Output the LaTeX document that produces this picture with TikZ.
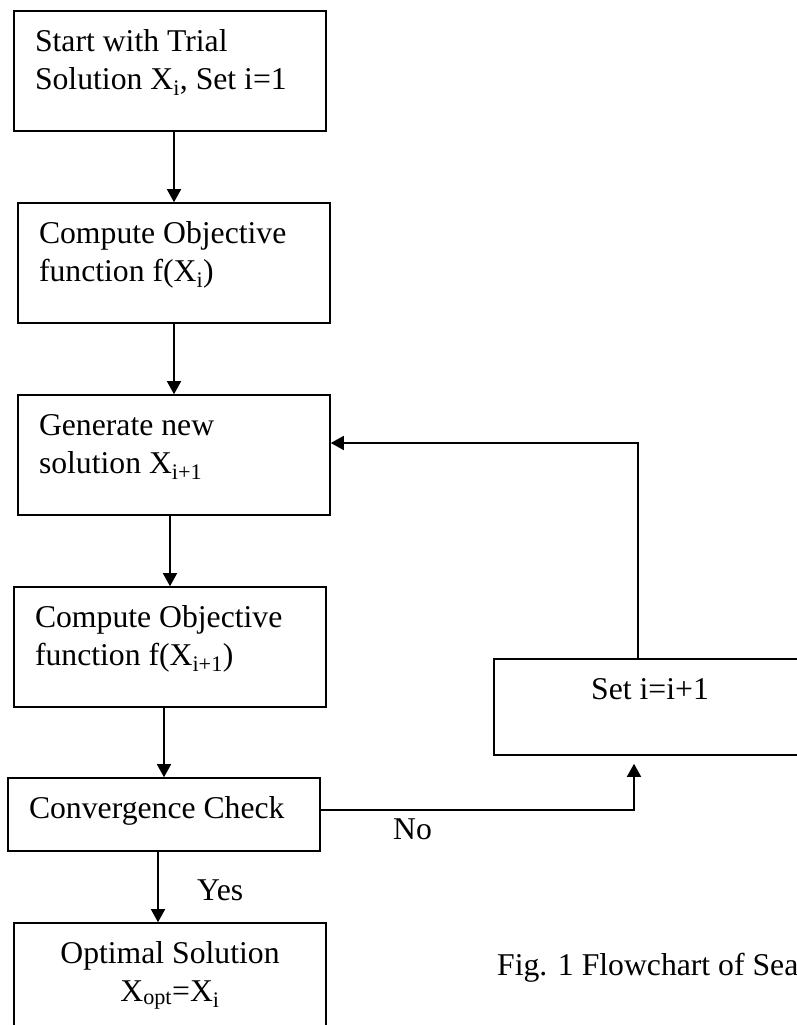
\documentclass[tikz,border=0pt]{standalone}
\usepackage{fontspec}
\setmainfont{Liberation Serif}
\usepackage{tikz}
\usetikzlibrary{positioning,calc,arrows.meta}

% text inside a flowchart box: height, alignment, text
\newcommand{\boxtext}[3]{\parbox[c][#1][t]{270pt}{#2\rule{0pt}{40pt}#3}}

\tikzset{
  flowbox/.style={draw, line width=1.6pt, minimum width=312pt, inner sep=0pt},
  flowtext/.style={inner sep=0pt, anchor=base west}
}

\begin{document}
\begin{tikzpicture}[x=1pt,y=-1pt,>={Triangle[length=13pt,width=14pt]},
  every node/.style={font=\fontsize{31.7}{38}\selectfont}]
            \useasboundingbox (0,0) rectangle (797,1025);

            \node[flowbox] (start) at (170,71)
              {\boxtext{120pt}{\raggedright}{Start with Trial\\Solution X\textsubscript{i}, Set i=1}};
            \node[flowbox] (obj1) at (174,263)
              {\boxtext{120pt}{\raggedright}{Compute Objective\\function f(X\textsubscript{i})}};
            \node[flowbox] (gen) at (174,455)
              {\boxtext{120pt}{\raggedright}{Generate new\\solution X\textsubscript{i+1}}};
            \node[flowbox] (obj2) at (170,647)
              {\boxtext{120pt}{\raggedright}{Compute Objective\\function f(X\textsubscript{i+1})}};
            \node[flowbox] (conv) at (164,814.5)
              {\boxtext{73pt}{\raggedright}{Convergence Check}};
            \node[flowbox] (opt) at (170,983)
              {\boxtext{120pt}{\centering}{Optimal Solution\\X\textsubscript{opt}=X\textsubscript{i}}};
            \node[flowbox] (setinc) at (650,707)
              {\boxtext{96pt}{\centering}{Set i=i+1}};

            \node[flowtext] (yes) at (197,900) {Yes};
            \node[flowtext] (no) at (393,839) {No};
            \node[flowtext] (caption) at (497,975) {Fig. 1 Flowchart of Sea};

            \draw[->,line width=1.6pt] (start.south -| obj1.north) -- (obj1.north);
            \draw[->,line width=1.6pt] (obj1) -- (gen);
            \draw[->,line width=1.6pt] (gen.south -| obj2.north) -- (obj2.north);
            \draw[->,line width=1.6pt] (obj2.south -| conv.north) -- (conv.north);
            \draw[->,line width=1.6pt] ([xshift=-6pt]conv.south) -- ([xshift=-6pt]conv.south |- opt.north);
            \draw[->,line width=1.6pt,shorten >=8pt] ([yshift=4.5pt]conv.east) -| ([xshift=-16pt]setinc.south);
            \draw[->,line width=1.6pt] ([xshift=-12pt]setinc.north) |- ([yshift=12pt]gen.east);
\end{tikzpicture}
\end{document}
